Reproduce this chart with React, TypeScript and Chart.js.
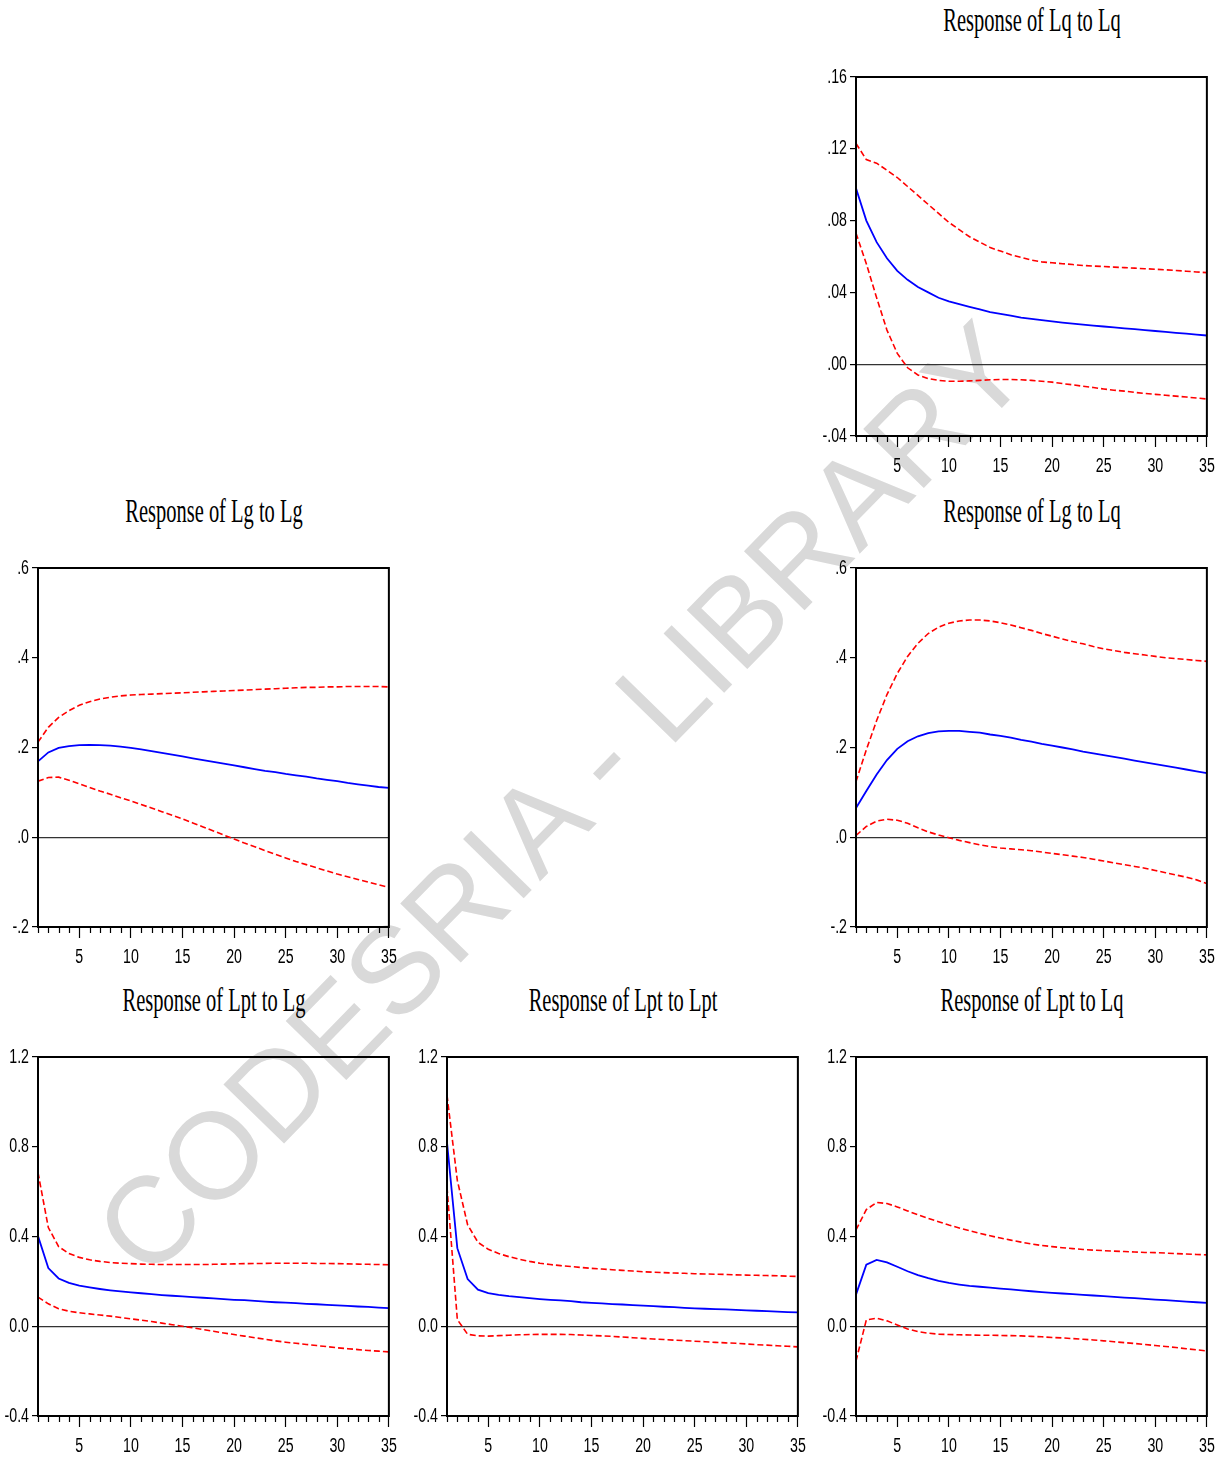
import React, { useEffect, useRef } from 'react';
import { Chart, registerables } from 'chart.js';

Chart.register(...registerables);

// ---------- data ----------
const periods = [1, 2, 3, 4, 5, 6, 7, 8, 9, 10, 11, 12, 13, 14, 15, 16, 17, 18, 19, 20, 21, 22, 23, 24, 25, 26, 27, 28, 29, 30, 31, 32, 33, 34, 35];

const xTickValues = [5, 10, 15, 20, 25, 30, 35];
const xTickLabels = ['5', '10', '15', '20', '25', '30', '35'];

const yTicksLq = [-0.04, 0, 0.04, 0.08, 0.12, 0.16];
const yLabelsLq = ['-.04', '.00', '.04', '.08', '.12', '.16'];
const yTicksLg = [-0.2, 0, 0.2, 0.4, 0.6];
const yLabelsLg = ['-.2', '.0', '.2', '.4', '.6'];
const yTicksLpt = [-0.4, 0, 0.4, 0.8, 1.2];
const yLabelsLpt = ['-0.4', '0.0', '0.4', '0.8', '1.2'];

// Response of Lq to Lq
const lqLqResp = [0.098, 0.080, 0.068, 0.059, 0.052, 0.047, 0.043, 0.040, 0.037, 0.035, 0.0335, 0.032, 0.0305, 0.029, 0.028, 0.027, 0.026, 0.0252, 0.0245, 0.0238, 0.0232, 0.0226, 0.022, 0.0215, 0.021, 0.0205, 0.020, 0.0195, 0.019, 0.0185, 0.018, 0.0175, 0.017, 0.0165, 0.016];
const lqLqUpper = [0.123, 0.114, 0.112, 0.108, 0.104, 0.099, 0.094, 0.089, 0.084, 0.079, 0.075, 0.071, 0.068, 0.065, 0.063, 0.061, 0.0595, 0.058, 0.057, 0.0565, 0.056, 0.0555, 0.055, 0.0547, 0.0544, 0.0541, 0.0538, 0.0535, 0.0532, 0.0529, 0.0526, 0.0522, 0.0518, 0.0514, 0.051];
const lqLqLower = [0.073, 0.056, 0.037, 0.019, 0.006, -0.002, -0.006, -0.008, -0.009, -0.0095, -0.0095, -0.0093, -0.009, -0.0087, -0.0085, -0.0085, -0.0087, -0.009, -0.0095, -0.010, -0.0108, -0.0115, -0.0123, -0.013, -0.0138, -0.0145, -0.015, -0.0157, -0.0163, -0.0168, -0.0173, -0.0178, -0.0183, -0.0188, -0.0194];

// Response of Lg to Lg
const lgLgResp = [0.169, 0.189, 0.199, 0.203, 0.2055, 0.206, 0.2055, 0.204, 0.202, 0.199, 0.196, 0.192, 0.188, 0.184, 0.180, 0.176, 0.172, 0.168, 0.164, 0.160, 0.156, 0.152, 0.148, 0.145, 0.141, 0.138, 0.135, 0.131, 0.128, 0.125, 0.121, 0.118, 0.115, 0.112, 0.110];
const lgLgUpper = [0.212, 0.245, 0.267, 0.282, 0.294, 0.302, 0.308, 0.312, 0.315, 0.317, 0.318, 0.319, 0.320, 0.321, 0.322, 0.323, 0.324, 0.325, 0.326, 0.327, 0.328, 0.329, 0.330, 0.331, 0.332, 0.333, 0.334, 0.334, 0.335, 0.335, 0.336, 0.336, 0.336, 0.336, 0.335];
const lgLgLower = [0.125, 0.133, 0.134, 0.127, 0.119, 0.111, 0.103, 0.096, 0.088, 0.081, 0.073, 0.065, 0.057, 0.049, 0.041, 0.032, 0.023, 0.014, 0.005, -0.004, -0.013, -0.021, -0.030, -0.038, -0.046, -0.054, -0.061, -0.068, -0.075, -0.082, -0.088, -0.094, -0.100, -0.106, -0.112];

// Response of Lg to Lq
const lgLqResp = [0.065, 0.103, 0.140, 0.172, 0.197, 0.214, 0.225, 0.232, 0.236, 0.237, 0.237, 0.235, 0.233, 0.229, 0.226, 0.222, 0.217, 0.213, 0.208, 0.204, 0.200, 0.196, 0.191, 0.187, 0.183, 0.179, 0.175, 0.171, 0.167, 0.163, 0.159, 0.155, 0.151, 0.147, 0.143];
const lgLqUpper = [0.124, 0.195, 0.260, 0.318, 0.365, 0.403, 0.432, 0.454, 0.468, 0.477, 0.482, 0.484, 0.484, 0.482, 0.478, 0.473, 0.467, 0.461, 0.454, 0.448, 0.442, 0.436, 0.431, 0.425, 0.420, 0.416, 0.412, 0.409, 0.406, 0.403, 0.400, 0.398, 0.396, 0.394, 0.392];
const lgLqLower = [0.004, 0.024, 0.036, 0.040, 0.038, 0.031, 0.021, 0.012, 0.005, -0.001, -0.007, -0.012, -0.017, -0.021, -0.024, -0.026, -0.028, -0.030, -0.033, -0.036, -0.039, -0.042, -0.045, -0.049, -0.053, -0.057, -0.061, -0.065, -0.069, -0.074, -0.079, -0.084, -0.089, -0.095, -0.103];

// Response of Lpt to Lg
const lptLgResp = [0.402, 0.259, 0.213, 0.193, 0.181, 0.173, 0.166, 0.160, 0.155, 0.151, 0.147, 0.143, 0.139, 0.136, 0.133, 0.130, 0.127, 0.124, 0.121, 0.118, 0.116, 0.113, 0.110, 0.107, 0.105, 0.103, 0.100, 0.098, 0.095, 0.093, 0.091, 0.088, 0.086, 0.083, 0.081];
const lptLgUpper = [0.685, 0.440, 0.355, 0.324, 0.307, 0.296, 0.289, 0.284, 0.281, 0.279, 0.277, 0.276, 0.275, 0.275, 0.275, 0.275, 0.275, 0.276, 0.277, 0.278, 0.279, 0.280, 0.280, 0.281, 0.281, 0.281, 0.281, 0.280, 0.280, 0.279, 0.278, 0.277, 0.276, 0.275, 0.274];
const lptLgLower = [0.130, 0.100, 0.078, 0.067, 0.060, 0.055, 0.050, 0.045, 0.039, 0.033, 0.027, 0.021, 0.014, 0.007, 0.000, -0.007, -0.015, -0.022, -0.030, -0.037, -0.044, -0.051, -0.058, -0.065, -0.071, -0.076, -0.081, -0.086, -0.091, -0.096, -0.100, -0.104, -0.108, -0.111, -0.114];

// Response of Lpt to Lpt
const lptLptResp = [0.820, 0.348, 0.210, 0.163, 0.148, 0.140, 0.134, 0.130, 0.125, 0.121, 0.118, 0.115, 0.112, 0.107, 0.104, 0.102, 0.099, 0.097, 0.094, 0.092, 0.090, 0.087, 0.085, 0.082, 0.080, 0.078, 0.076, 0.075, 0.073, 0.071, 0.069, 0.067, 0.065, 0.063, 0.062];
const lptLptUpper = [1.030, 0.650, 0.452, 0.374, 0.343, 0.324, 0.310, 0.299, 0.289, 0.281, 0.275, 0.270, 0.266, 0.262, 0.258, 0.255, 0.252, 0.249, 0.246, 0.243, 0.241, 0.239, 0.237, 0.236, 0.234, 0.233, 0.232, 0.231, 0.229, 0.228, 0.227, 0.226, 0.225, 0.223, 0.222];
const lptLptLower = [0.620, 0.030, -0.036, -0.043, -0.044, -0.042, -0.040, -0.038, -0.037, -0.036, -0.036, -0.036, -0.037, -0.039, -0.041, -0.043, -0.045, -0.048, -0.051, -0.054, -0.057, -0.059, -0.062, -0.064, -0.067, -0.069, -0.072, -0.074, -0.076, -0.079, -0.082, -0.084, -0.087, -0.089, -0.092];

// Response of Lpt to Lq
const lptLqResp = [0.141, 0.274, 0.296, 0.285, 0.265, 0.245, 0.228, 0.214, 0.202, 0.193, 0.186, 0.180, 0.176, 0.172, 0.168, 0.164, 0.160, 0.156, 0.152, 0.149, 0.146, 0.143, 0.140, 0.137, 0.134, 0.131, 0.128, 0.125, 0.122, 0.119, 0.116, 0.113, 0.110, 0.107, 0.104];
const lptLqUpper = [0.429, 0.520, 0.552, 0.547, 0.532, 0.514, 0.497, 0.481, 0.466, 0.451, 0.438, 0.426, 0.414, 0.403, 0.393, 0.384, 0.375, 0.367, 0.360, 0.355, 0.350, 0.346, 0.342, 0.339, 0.337, 0.335, 0.333, 0.331, 0.329, 0.328, 0.326, 0.324, 0.322, 0.320, 0.318];
const lptLqLower = [-0.155, 0.028, 0.036, 0.024, 0.006, -0.012, -0.024, -0.031, -0.035, -0.037, -0.038, -0.039, -0.040, -0.040, -0.041, -0.042, -0.043, -0.045, -0.047, -0.050, -0.052, -0.055, -0.058, -0.061, -0.065, -0.069, -0.073, -0.077, -0.081, -0.086, -0.090, -0.095, -0.100, -0.105, -0.110];

// ---------- layout constants ----------
const YW = 50; // y-axis area width
const PT = 14; // top padding
const PR = 18; // right padding
const XH = 45; // x-axis area height
const PLOT_W = 351;
const PLOT_H = 360;
const SQUEEZE = 0.71; // horizontal compression of tick labels (narrow look)

const TICK_FONT = "'Liberation Sans', Arial, sans-serif";

// draws tick labels horizontally condensed, like the original narrow font
const squeezePlugin = {
  id: 'squeezeText',
  beforeDraw(chart: any) {
    const ctx = chart.ctx;
    const orig = CanvasRenderingContext2D.prototype.fillText;
    ctx.fillText = function (text: string, x: number, y: number, maxWidth?: number) {
      const w = this.measureText(text).width * SQUEEZE;
      const mw = maxWidth !== undefined ? Math.min(maxWidth, w) : w;
      return orig.call(this, text, x, y, mw);
    };
  },
  afterDraw(chart: any) {
    delete chart.ctx.fillText;
  },
};

const framePlugin = {
  id: 'irfFrame',
  afterDraw(chart: any) {
    const { ctx, chartArea } = chart;
    const { left, top, right, bottom } = chartArea;
    const xs = chart.scales.x;
    ctx.save();
    ctx.strokeStyle = '#000';
    ctx.lineWidth = 2;
    ctx.strokeRect(left, top, right - left, bottom - top);
    ctx.lineWidth = 1.2;
    ctx.beginPath();
    for (const p of periods) {
      if (xTickValues.includes(p)) continue;
      const px = Math.round(xs.getPixelForValue(p)) + 0.5;
      ctx.moveTo(px, bottom);
      ctx.lineTo(px, bottom + 6);
    }
    ctx.stroke();
    ctx.restore();
  },
};

type PanelProps = {
  title: string;
  resp: number[];
  upper: number[];
  lower: number[];
  yTicks: number[];
  yLabels: string[];
  plotLeft: number;
  plotTop: number;
};

function labelFor(values: number[], labels: string[], v: number) {
  const i = values.findIndex((t) => Math.abs(t - v) < 1e-9);
  return i >= 0 ? labels[i] : '';
}

function Panel({ title, resp, upper, lower, yTicks, yLabels, plotLeft, plotTop }: PanelProps) {
  const ref = useRef<HTMLCanvasElement | null>(null);
  const cw = YW + PLOT_W + PR;
  const ch = PT + PLOT_H + XH;

  useEffect(() => {
    if (!ref.current) return;
    const pts = (arr: number[]) => periods.map((p, i) => ({ x: p, y: arr[i] }));
    const chart = new Chart(ref.current, {
      type: 'line',
      data: {
        datasets: [
          { data: pts(upper), borderColor: '#ff0000', borderWidth: 1.6, borderDash: [6, 3], pointRadius: 0, fill: false, tension: 0 },
          { data: pts(lower), borderColor: '#ff0000', borderWidth: 1.6, borderDash: [6, 3], pointRadius: 0, fill: false, tension: 0 },
          { data: pts(resp), borderColor: '#0000ff', borderWidth: 1.8, pointRadius: 0, fill: false, tension: 0 },
        ],
      },
      options: {
        animation: false,
        responsive: false,
        maintainAspectRatio: false,
        events: [],
        layout: { padding: { top: PT, right: PR, left: 0, bottom: 0 } },
        plugins: { legend: { display: false }, tooltip: { enabled: false }, title: { display: false } },
        scales: {
          x: {
            type: 'linear',
            min: 1,
            max: 35,
            afterBuildTicks: (s: any) => {
              s.ticks = xTickValues.map((v) => ({ value: v }));
            },
            afterFit: (s: any) => {
              s.height = XH;
            },
            ticks: {
              autoSkip: false,
              maxRotation: 0,
              minRotation: 0,
              padding: 7,
              color: '#000',
              font: { family: TICK_FONT, size: 20 },
              callback: (v: any) => labelFor(xTickValues, xTickLabels, Number(v)),
            },
            grid: { drawOnChartArea: false, drawTicks: true, tickLength: 11, tickColor: '#000', tickWidth: 1.2 },
            border: { display: false },
          },
          y: {
            type: 'linear',
            min: yTicks[0],
            max: yTicks[yTicks.length - 1],
            afterBuildTicks: (s: any) => {
              s.ticks = yTicks.map((v) => ({ value: v }));
            },
            afterFit: (s: any) => {
              s.width = YW;
            },
            ticks: {
              padding: 3,
              color: '#000',
              font: { family: TICK_FONT, size: 20 },
              callback: (v: any) => labelFor(yTicks, yLabels, Number(v)),
            },
            grid: {
              drawOnChartArea: true,
              drawTicks: true,
              tickLength: 6,
              tickColor: '#000',
              tickWidth: 1.2,
              lineWidth: 1.2,
              color: (c: any) => (c.tick && Math.abs(c.tick.value) < 1e-9 ? '#333' : 'rgba(0,0,0,0)'),
            },
            border: { display: false },
          },
        },
      },
      plugins: [squeezePlugin, framePlugin],
    } as any);
    return () => chart.destroy();
  }, []);

  return (
    <>
      <div
        style={{
          position: 'absolute',
          left: plotLeft + PLOT_W / 2,
          top: plotTop - 72,
          transform: 'translateX(-50%) scaleX(0.62)',
          fontFamily: "'Liberation Serif', 'Times New Roman', serif",
          fontSize: 33,
          lineHeight: 1,
          whiteSpace: 'nowrap',
          color: '#000',
          zIndex: 2,
        }}
      >
        {title}
      </div>
      <canvas
        ref={ref}
        width={cw}
        height={ch}
        style={{ position: 'absolute', left: plotLeft - YW, top: plotTop - PT, width: cw, height: ch, zIndex: 1 }}
      />
    </>
  );
}

export default function App() {
  return (
    <div
      style={{
        position: 'fixed',
        left: 0,
        top: 0,
        width: 1227,
        height: 1460,
        overflow: 'hidden',
        background: '#fff',
      }}
    >
      <div
        style={{
          position: 'absolute',
          left: 561,
          top: 799,
          transform: 'translate(-50%, -50%) rotate(-45.7deg)',
          fontFamily: "'Liberation Sans', Arial, sans-serif",
          fontSize: 123,
          lineHeight: 1,
          whiteSpace: 'nowrap',
          color: '#d9d9d9',
          zIndex: 0,
        }}
      >
        CODESRIA - LIBRARY
      </div>
      <Panel title="Response of Lq to Lq" resp={lqLqResp} upper={lqLqUpper} lower={lqLqLower} yTicks={yTicksLq} yLabels={yLabelsLq} plotLeft={856} plotTop={76} />
      <Panel title="Response of Lg to Lg" resp={lgLgResp} upper={lgLgUpper} lower={lgLgLower} yTicks={yTicksLg} yLabels={yLabelsLg} plotLeft={38} plotTop={567} />
      <Panel title="Response of Lg to Lq" resp={lgLqResp} upper={lgLqUpper} lower={lgLqLower} yTicks={yTicksLg} yLabels={yLabelsLg} plotLeft={856} plotTop={567} />
      <Panel title="Response of Lpt to Lg" resp={lptLgResp} upper={lptLgUpper} lower={lptLgLower} yTicks={yTicksLpt} yLabels={yLabelsLpt} plotLeft={38} plotTop={1056} />
      <Panel title="Response of Lpt to Lpt" resp={lptLptResp} upper={lptLptUpper} lower={lptLptLower} yTicks={yTicksLpt} yLabels={yLabelsLpt} plotLeft={447} plotTop={1056} />
      <Panel title="Response of Lpt to Lq" resp={lptLqResp} upper={lptLqUpper} lower={lptLqLower} yTicks={yTicksLpt} yLabels={yLabelsLpt} plotLeft={856} plotTop={1056} />
    </div>
  );
}
